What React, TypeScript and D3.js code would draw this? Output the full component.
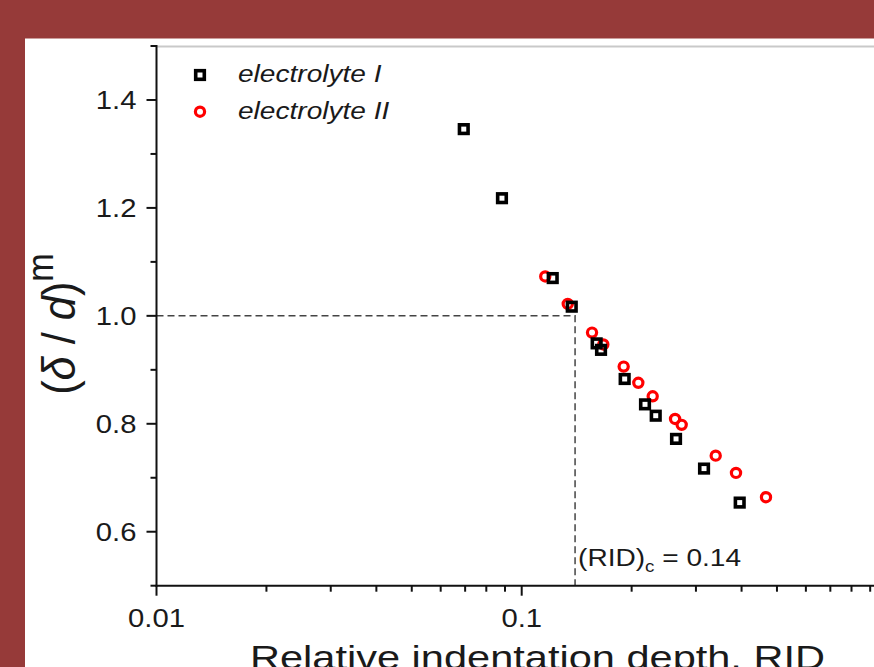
import React from "react";
import * as d3 from "d3";

const W = 874;
const H = 667;

// electrolyte I (squares)
const rid1 = [0.0694, 0.0883, 0.1216, 0.1371, 0.1604, 0.1649, 0.1914, 0.2176, 0.2328, 0.2646, 0.3157, 0.3953];
const val1 = [1.346, 1.218, 1.070, 1.017, 0.949, 0.937, 0.883, 0.836, 0.815, 0.772, 0.717, 0.654];
// electrolyte II (circles)
const rid2 = [0.116, 0.1337, 0.1558, 0.1673, 0.1902, 0.2086, 0.2284, 0.263, 0.2742, 0.3398, 0.3862, 0.4666];
const val2 = [1.073, 1.022, 0.969, 0.947, 0.906, 0.876, 0.851, 0.809, 0.798, 0.741, 0.709, 0.664];

const xMajor = [0.01, 0.1];
const xMajorLabels = ["0.01", "0.1"];
const xMinor = [0.02, 0.03, 0.04, 0.05, 0.06, 0.07, 0.08, 0.09, 0.2, 0.3, 0.4, 0.5, 0.6, 0.7, 0.8, 0.9];
const yMajor = [0.6, 0.8, 1.0, 1.2, 1.4];
const yMajorLabels = ["0.6", "0.8", "1.0", "1.2", "1.4"];
const yMinor = [0.5, 0.7, 0.9, 1.1, 1.3, 1.5];

const legendLabels = ["electrolyte I", "electrolyte II"];
const ridC = 0.14;
const refY = 1.0;

const FONT = "'Liberation Sans', Arial, sans-serif";
const SX = 1.17;
const TXT = "#1a1a1a";

export default function App() {
  const x = d3.scaleLog().domain([0.01, 1]).range([156.5, 886.9]);
  const y = d3.scaleLinear().domain([0.5, 1.5]).range([585.7, 46]);
  const x0 = x(0.01);
  const yBase = y(0.5);
  const yTop = y(1.5);
  const sq = 8.6;
  const sqW = 3.6;
  const r = 4.6;
  const cW = 3.2;

  return (
    <svg
      width={W}
      height={H}
      style={{ position: "absolute", left: 0, top: 0, display: "block" }}
      fontFamily={FONT}
    >
      <rect x={0} y={0} width={W} height={H} fill="#963a39" />
      <rect x={25} y={38.5} width={W - 25} height={H - 38.5} fill="#ffffff" />

      {/* top frame */}
      <line x1={x0} x2={W} y1={yTop + 0.5} y2={yTop + 0.5} stroke="#c9c9c9" strokeWidth={2} />

      {/* reference dashed lines */}
      <path
        d={`M${x0},${y(refY)}H${x(ridC)}V${yBase}`}
        fill="none"
        stroke="#444"
        strokeWidth={1.5}
        strokeDasharray="7,4"
      />

      {/* axes */}
      <line x1={x0} x2={x0} y1={yTop - 1} y2={yBase + 1} stroke="#111" strokeWidth={2} />
      <line x1={x0 - 1} x2={W} y1={yBase} y2={yBase} stroke="#111" strokeWidth={2} />

      {yMajor.map((v, i) => (
        <g key={"ym" + i}>
          <line x1={x0 - 10} x2={x0} y1={y(v)} y2={y(v)} stroke="#111" strokeWidth={2} />
          <g transform={`translate(${x0 - 20},${y(v) + 9}) scale(${SX},1)`}>
            <text textAnchor="end" fontSize={25} fill={TXT}>
              {yMajorLabels[i]}
            </text>
          </g>
        </g>
      ))}
      {yMinor.map((v, i) => (
        <line key={"yn" + i} x1={x0 - 6} x2={x0} y1={y(v)} y2={y(v)} stroke="#111" strokeWidth={2} />
      ))}

      {xMajor.map((v, i) => (
        <g key={"xm" + i}>
          <line x1={x(v)} x2={x(v)} y1={yBase} y2={yBase + 10} stroke="#111" strokeWidth={2} />
          <g transform={`translate(${x(v)},${yBase + 41}) scale(${SX},1)`}>
            <text textAnchor="middle" fontSize={25} fill={TXT}>
              {xMajorLabels[i]}
            </text>
          </g>
        </g>
      ))}
      {xMinor.map((v, i) => (
        <line key={"xn" + i} x1={x(v)} x2={x(v)} y1={yBase} y2={yBase + 6} stroke="#111" strokeWidth={2} />
      ))}

      {/* annotation */}
      <g transform={`translate(${x(ridC) + 3},${566}) scale(${SX},1)`}>
        <text fontSize={24} fill={TXT}>
          (RID)
          <tspan fontSize={16} dy={6}>c</tspan>
          <tspan dy={-6}> = 0.14</tspan>
        </text>
      </g>

      {/* data */}
      {rid2.map((v, i) => (
        <circle key={"c" + i} cx={x(v)} cy={y(val2[i])} r={r} fill="none" stroke="#ff0000" strokeWidth={cW} />
      ))}
      {rid1.map((v, i) => (
        <rect
          key={"s" + i}
          x={x(v) - sq / 2}
          y={y(val1[i]) - sq / 2}
          width={sq}
          height={sq}
          fill="none"
          stroke="#000"
          strokeWidth={sqW}
        />
      ))}

      {/* legend */}
      <rect x={200 - sq / 2} y={75 - sq / 2} width={sq} height={sq} fill="none" stroke="#000" strokeWidth={sqW} />
      <circle cx={200} cy={111.7} r={r} fill="none" stroke="#ff0000" strokeWidth={cW} />
      <g transform={`translate(238,82) scale(${SX},1)`}>
        <text fontSize={24} fontStyle="italic" fill={TXT}>{legendLabels[0]}</text>
      </g>
      <g transform={`translate(238,118.5) scale(${SX},1)`}>
        <text fontSize={24} fontStyle="italic" fill={TXT}>{legendLabels[1]}</text>
      </g>

      {/* axis titles */}
      <text
        x={537.5}
        y={669}
        textAnchor="middle"
        fontSize={34}
        fill={TXT}
        textLength={575}
        lengthAdjust="spacingAndGlyphs"
      >
        Relative indentation depth, RID
      </text>
      <g transform={`translate(75,324) rotate(-90) scale(1.14,1.2)`}>
        <text textAnchor="middle" fontSize={38} fill={TXT}>
          (<tspan fontStyle="italic">δ</tspan> / <tspan fontStyle="italic">d</tspan>)
          <tspan fontSize={30} dy={-18}>m</tspan>
        </text>
      </g>
    </svg>
  );
}
